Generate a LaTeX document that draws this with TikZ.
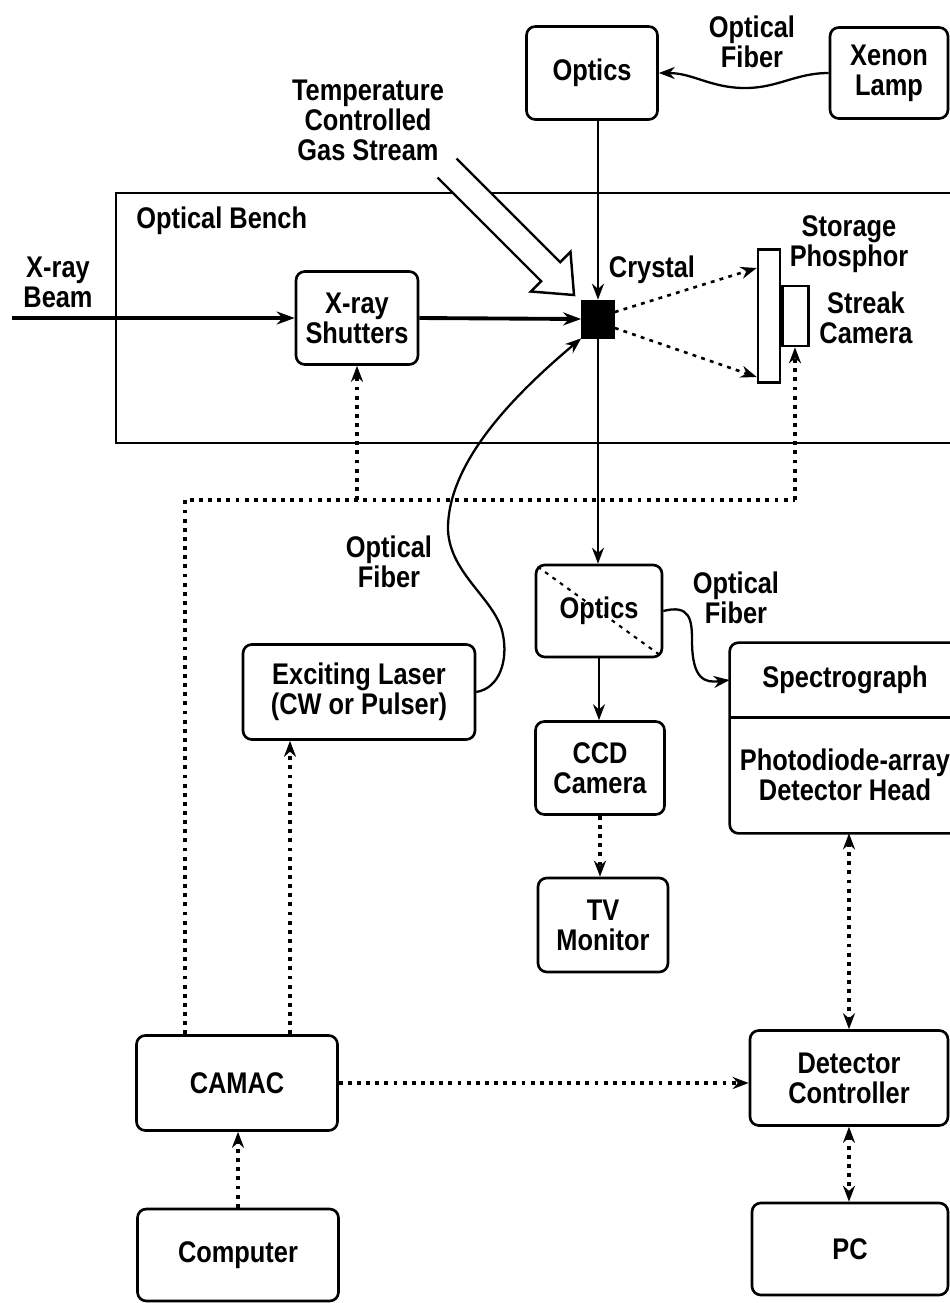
\documentclass[tikz,border=0pt]{standalone}
\usepackage{fontspec}
\setmainfont{Liberation Sans}[FakeStretch=0.85]
\usepackage{tikz}
\usetikzlibrary{arrows.meta, positioning, calc}
\tikzset{
  unitbox/.style={
    draw, rounded corners=5pt, line width=1.5pt, align=center,
    font=\bfseries\fontsize{17}{17}\selectfont, inner sep=2pt
  },
  notelabel/.style={
    align=center, font=\bfseries\fontsize{17}{17}\selectfont, inner sep=0pt
  },
  lightarrow/.style={
    -{Stealth[length=3.2mm, width=2.4mm]}, line width=1.3pt
  },
  beamarrow/.style={
    -{Stealth[length=3.6mm, width=2.6mm]}, line width=2.2pt
  },
  ctrlline/.style={
    line width=1.8pt, dash pattern=on 2.2pt off 3pt
  },
  ctrlarrow/.style={
    ctrlline, -{Stealth[length=3.2mm, width=2.4mm]}
  },
  ctrlboth/.style={
    ctrlline, {Stealth[length=3.2mm, width=2.4mm]}-{Stealth[length=3.2mm, width=2.4mm]}
  },
}

\begin{document}
\begin{tikzpicture}[x=0.02cm, y=-0.02cm]
  \useasboundingbox (0,0) rectangle (950,1303);
  \clip (0,0) rectangle (950,1303);

  % ---- Probe light, top ----
  \node[unitbox, minimum width=2.62cm, minimum height=1.86cm] (optics1) at (592,73) {Optics};
  \node[unitbox, minimum width=2.36cm, minimum height=1.82cm] (xenon) at (889,73) {Xenon\\Lamp};
  \node[notelabel] (fiber1) at (752,42) {Optical\\Fiber};
  \draw[lightarrow] (xenon.west) to[out=180, in=0] (745,88) to[out=180, in=0] (optics1.east);

  % ---- Optical bench ----
  \draw[line width=1.5pt] (965,193) -- (116,193) -- (116,443) -- (965,443);
  \node[notelabel, anchor=west] (benchname) at (136,221) {Optical Bench};

  % Gas stream
  \node[notelabel] (gaslabel) at (368,120) {Temperature\\Controlled\\Gas Stream};
  \filldraw[fill=white, line width=1.4pt] (456.5,158.5) -- (560.2,262.2) -- (570.5,251.9)
    -- (574,295) -- (530.9,291.5) -- (541.2,281.2) -- (437.5,177.5);

  % Crystal
  \node[draw, fill=black, minimum width=0.66cm, minimum height=0.76cm, inner sep=0pt] (crystal) at (598,319) {};
  \node[notelabel] (crystalname) at (652,270) {Crystal};
  \draw[lightarrow] (crystal.north |- optics1.south) -- (crystal.north);

  % X-ray beam
  \node[unitbox, minimum width=2.44cm, minimum height=1.86cm] (shutters) at (357,318) {X-ray\\Shutters};
  \node[notelabel] (beamname) at (58,282) {X-ray\\Beam};
  \coordinate (beamin) at (12,318);
  \draw[beamarrow] (beamin) -- (shutters.west);
  \draw[beamarrow] (shutters.east) -- (crystal.west);

  % Phosphor and streak camera
  \node[draw, line width=1.5pt, minimum width=0.44cm, minimum height=2.66cm, inner sep=0pt] (phosphor) at (769,316) {};
  \node[draw, line width=1.5pt, minimum width=0.52cm, minimum height=1.2cm, inner sep=0pt, anchor=west] (streak) at (phosphor.east) {};
  \node[notelabel] (phosphorname) at (849,244) {Storage\\Phosphor};
  \node[notelabel] (streakname) at (866,318) {Streak\\Camera};
  \draw[ctrlarrow, line width=1.5pt] ($(crystal.east)+(0,-7)$) -- ($(phosphor.west)+(0,-48)$);
  \draw[ctrlarrow, line width=1.5pt] ($(crystal.east)+(0,9)$) -- ($(phosphor.west)+(0,61)$);

  % ---- Exciting laser ----
  \node[unitbox, minimum width=4.64cm, minimum height=1.9cm] (laser) at (359,692) {Exciting Laser\\(CW or Pulser)};
  \node[notelabel] (fiber2) at (389,562) {Optical\\Fiber};
  \draw[lightarrow] (laser.east) .. controls (500,688) and (508,660) .. (503,635)
    .. controls (497,600) and (450,575) .. (448,530)
    .. controls (447,460) and (520,390) .. (crystal.south west);

  % ---- Detection ----
  \node[unitbox, minimum width=2.52cm, minimum height=1.84cm] (optics2) at (599,611) {Optics};
  \draw[lightarrow] (crystal.south) -- (optics2.north -| crystal.south);
  \draw[ctrlline, line width=1.2pt] ($(optics2.north west)+(3,3)$) -- ($(optics2.south east)+(-3,-3)$);

  \node[notelabel, minimum width=4.6cm, minimum height=1.48cm] (spectro) at (845,680) {Spectrograph};
  \node[notelabel, minimum width=4.6cm, minimum height=2.32cm] (dethead) at (845,775) {Photodiode-array\\Detector Head};
  \draw[line width=1.5pt, rounded corners=5pt] (spectro.north east) -- (spectro.north west)
    -- (dethead.south west) -- (dethead.south east);
  \draw[line width=1.5pt] (spectro.south west) -- (spectro.south east);
  \node[notelabel] (fiber3) at (736,598) {Optical\\Fiber};
  \draw[lightarrow] (optics2.east) .. controls (690,604) and (692,620) .. (692,640)
    .. controls (692,680) and (705,683) .. (spectro.west);

  \node[unitbox, minimum width=2.58cm, minimum height=1.86cm] (ccd) at (600,768) {CCD\\Camera};
  \node[unitbox, minimum width=2.6cm, minimum height=1.88cm] (tvmon) at (603,925) {TV\\Monitor};
  \draw[lightarrow] (optics2.south) -- (ccd.north -| optics2.south);
  \draw[ctrlarrow] (ccd.south) -- (tvmon.north -| ccd.south);

  % ---- Control ----
  \node[unitbox, minimum width=3.96cm, minimum height=1.9cm] (detctrl) at (849,1078) {Detector\\Controller};
  \node[unitbox, minimum width=3.92cm, minimum height=1.84cm] (pc) at (850,1249) {PC};
  \node[unitbox, minimum width=4.02cm, minimum height=1.9cm] (camac) at (237,1083) {CAMAC};
  \node[unitbox, minimum width=4.02cm, minimum height=1.84cm] (computer) at (238,1255) {Computer};

  \draw[ctrlboth] (detctrl.north |- dethead.south) -- (detctrl.north);
  \draw[ctrlboth] (detctrl.south) -- (pc.north -| detctrl.south);
  \draw[ctrlarrow] (camac.east) -- (detctrl.west |- camac.east);
  \draw[ctrlarrow] (computer.north) -- (camac.south -| computer.north);

  \coordinate (laserfeed) at ($(camac.north)+(53,0)$);
  \draw[ctrlarrow] (laserfeed) -- (laserfeed |- laser.south);

  \coordinate (busleft) at (185,500);
  \coordinate (busright) at (795,500);
  \draw[ctrlline] (busleft |- camac.north) -- (busleft) -- (busright);
  \draw[ctrlarrow] (busright) -- (busright |- streak.south);
  \draw[ctrlarrow] (shutters.south |- busleft) -- (shutters.south);
\end{tikzpicture}
\end{document}
